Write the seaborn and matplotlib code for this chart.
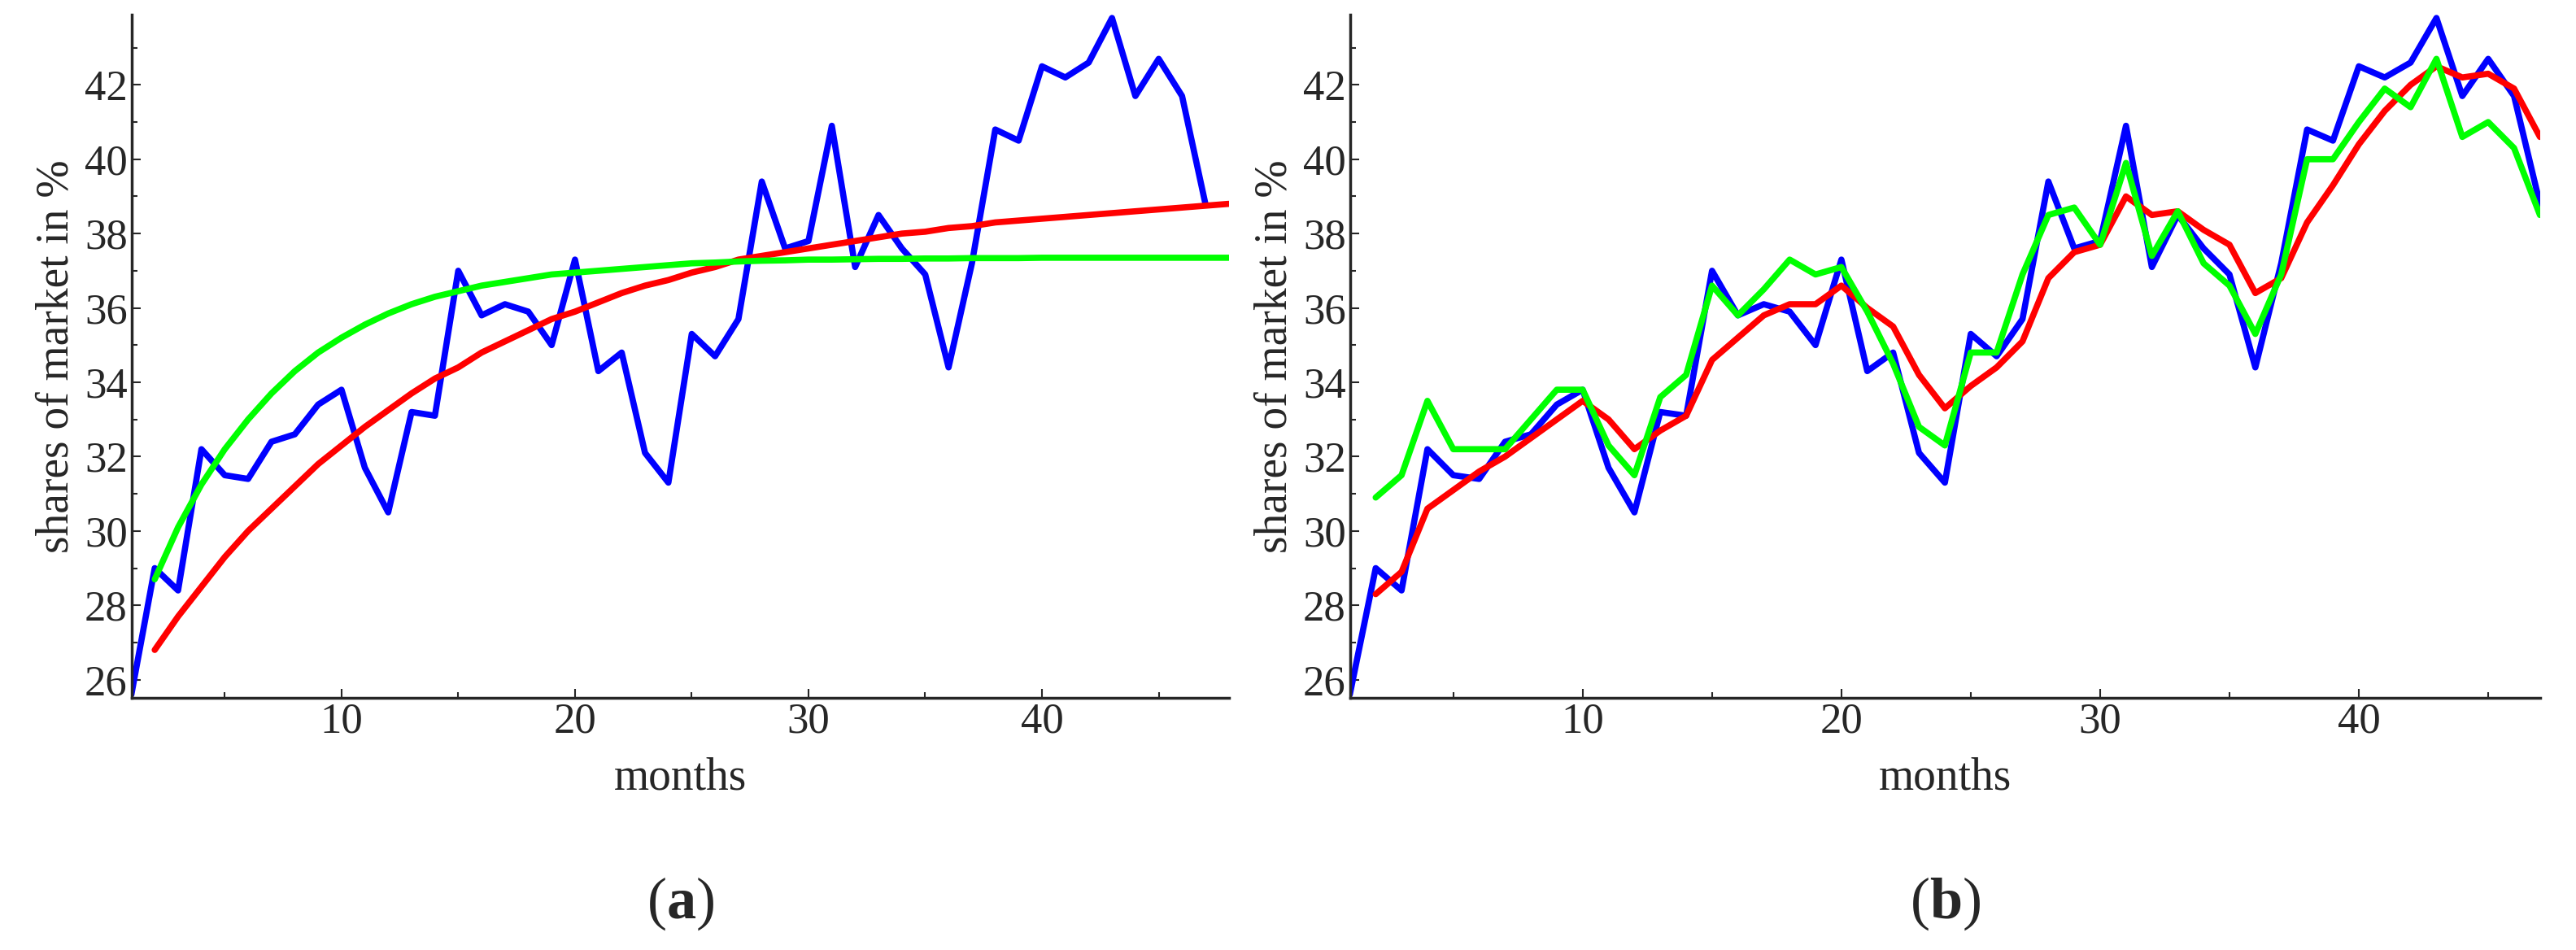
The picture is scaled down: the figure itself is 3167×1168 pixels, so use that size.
import numpy as np
import pandas as pd
import seaborn as sns
import matplotlib.pyplot as plt
from matplotlib.ticker import MultipleLocator

# DATA
months = list(range(1, 48))
shares = [25.6, 29.0, 28.4, 32.2, 31.5, 31.4, 32.4, 32.6, 33.4, 33.8,
          31.7, 30.5, 33.2, 33.1, 37.0, 35.8, 36.1, 35.9, 35.0, 37.3,
          34.3, 34.8, 32.1, 31.3, 35.3, 34.7, 35.7, 39.4, 37.6, 37.8,
          40.9, 37.1, 38.5, 37.6, 36.9, 34.4, 37.2, 40.8, 40.5, 42.5,
          42.2, 42.6, 43.8, 41.7, 42.7, 41.7, 38.8]

fit_months = list(range(2, 49))
fit_red = [26.8, 27.7, 28.5, 29.3, 30.0, 30.6, 31.2, 31.8, 32.3, 32.8,
           33.25, 33.7, 34.1, 34.4, 34.8, 35.1, 35.4, 35.7, 35.9, 36.15,
           36.4, 36.6, 36.75, 36.95, 37.1, 37.3, 37.4, 37.5, 37.6, 37.7,
           37.8, 37.9, 38.0, 38.05, 38.15, 38.2, 38.3, 38.35, 38.4, 38.45,
           38.5, 38.55, 38.6, 38.65, 38.7, 38.75, 38.8]
fit_green = [28.7, 30.1, 31.25, 32.2, 33.0, 33.7, 34.3, 34.8, 35.2, 35.55,
             35.85, 36.1, 36.3, 36.45, 36.6, 36.7, 36.8, 36.9, 36.95, 37.0,
             37.05, 37.1, 37.15, 37.2, 37.22, 37.25, 37.27, 37.28, 37.3, 37.3,
             37.31, 37.32, 37.32, 37.33, 37.33, 37.34, 37.34, 37.34, 37.35, 37.35,
             37.35, 37.35, 37.35, 37.35, 37.35, 37.35, 37.35]

pred_months = list(range(2, 48))
pred_red = [28.3, 28.9, 30.6, 31.1, 31.6, 32.0, 32.5, 33.0, 33.5, 33.0,
            32.2, 32.7, 33.1, 34.6, 35.2, 35.8, 36.1, 36.1, 36.6, 36.0,
            35.5, 34.2, 33.3, 33.9, 34.4, 35.1, 36.8, 37.5, 37.7, 39.0,
            38.5, 38.6, 38.1, 37.7, 36.4, 36.8, 38.3, 39.3, 40.4, 41.3,
            42.0, 42.5, 42.2, 42.3, 41.9, 40.6]
pred_green = [30.9, 31.5, 33.5, 32.2, 32.2, 32.2, 33.0, 33.8, 33.8, 32.3,
              31.5, 33.6, 34.2, 36.6, 35.8, 36.5, 37.3, 36.9, 37.1, 35.9,
              34.5, 32.8, 32.3, 34.8, 34.8, 36.9, 38.5, 38.7, 37.7, 39.9,
              37.4, 38.6, 37.2, 36.6, 35.3, 36.9, 40.0, 40.0, 41.0, 41.9,
              41.4, 42.7, 40.6, 41.0, 40.3, 38.5]

BLUE, RED, GREEN = "#0000ff", "#ff0000", "#00ff00"

sns.set_style("ticks")
plt.rcParams['font.family'] = ['Liberation Serif', 'DejaVu Serif']
plt.rcParams['mathtext.fontset'] = 'custom'
plt.rcParams['mathtext.rm'] = 'Liberation Serif'
plt.rcParams['mathtext.bf'] = 'Liberation Serif:bold'

fig = plt.figure(figsize=(31.67, 11.68), dpi=100)
ax_a = fig.add_axes([0.051, 0.265, 0.426, 0.72])
ax_b = fig.add_axes([0.524, 0.265, 0.462, 0.72])

lw = 5.5
sns.lineplot(x=months, y=shares, ax=ax_a, color=BLUE, lw=lw)
sns.lineplot(x=fit_months, y=fit_red, ax=ax_a, color=RED, lw=lw)
sns.lineplot(x=fit_months, y=fit_green, ax=ax_a, color=GREEN, lw=lw)

sns.lineplot(x=months, y=shares, ax=ax_b, color=BLUE, lw=lw)
sns.lineplot(x=pred_months, y=pred_red, ax=ax_b, color=RED, lw=lw)
sns.lineplot(x=pred_months, y=pred_green, ax=ax_b, color=GREEN, lw=lw)

for ax, xmax, tag in [(ax_a, 48, "a"), (ax_b, 47, "b")]:
    ax.set_xlim(1, xmax)
    ax.set_ylim(25.5, 43.9)
    ax.xaxis.set_major_locator(MultipleLocator(10))
    ax.xaxis.set_minor_locator(MultipleLocator(5))
    ax.yaxis.set_major_locator(MultipleLocator(2))
    ax.yaxis.set_minor_locator(MultipleLocator(1))
    ax.tick_params(which="both", direction="in", labelsize=38, width=1.5)
    ax.tick_params(which="major", length=8)
    ax.tick_params(which="minor", length=5)
    sns.despine(ax=ax)
    for s in ("left", "bottom"):
        ax.spines[s].set_linewidth(2.5)
    ax.set_xlabel("months", fontsize=40, labelpad=14)
    ax.set_ylabel("shares of market in %", fontsize=40, labelpad=6)
    ax.text(0.5, -0.30, "(" + r"$\mathbf{" + tag + "}$" + ")", transform=ax.transAxes,
            ha="center", va="center", fontsize=52)

fig.savefig("out.png", dpi=100)
